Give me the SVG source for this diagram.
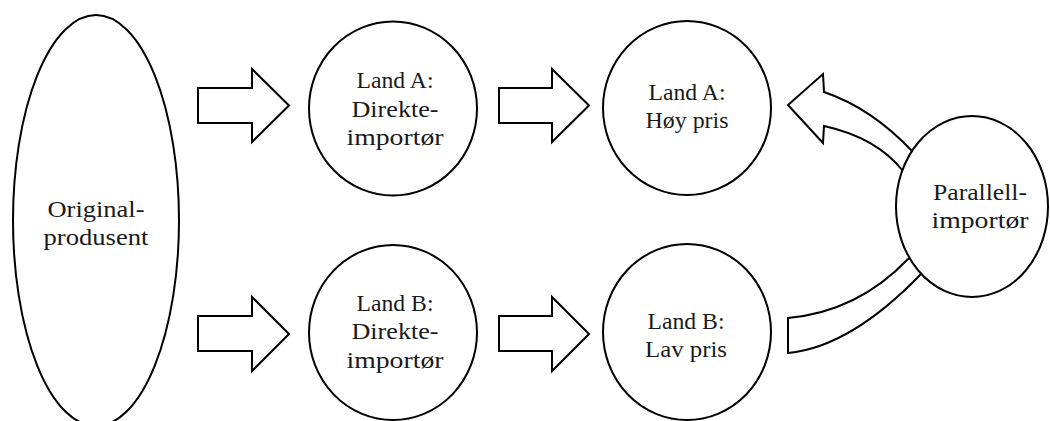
<svg xmlns="http://www.w3.org/2000/svg" width="1050" height="421" viewBox="0 0 1050 421">
<style>
.shape{fill:#fff;stroke:#000;stroke-width:2;stroke-linejoin:miter}
.lbl{font-family:"Liberation Serif","Times New Roman",serif;font-size:23.5px;fill:#1a1a1a;text-anchor:middle}
</style>
<rect width="1050" height="421" fill="#fff"/>
<g id="connectors">
<polygon class="shape" points="198,88 252,88 252,69 289,105.5 252,142 252,123 198,123"/>
<polygon class="shape" points="499,88 552,88 552,69 589,105.5 552,142 552,123 499,123"/>
<polygon class="shape" points="198,316 252,316 252,297 289,334 252,371 252,351 198,351"/>
<polygon class="shape" points="499,316 552,316 552,297 589,334 552,371 552,351 499,351"/>
<path class="shape" d="M788,105 L823,74 L824,92 Q871.5,108 913,152 L932,172 L903,171 Q876.5,137.5 824,126 L823,143 Z"/>
<path class="shape" d="M788,318 Q858,311.5 908,259 L935,250 L922,273 Q851,347 788,353 Z"/>
</g>
<g id="node-original">
<ellipse class="shape" cx="96" cy="220.5" rx="83" ry="205.5"/>
<text class="lbl" x="96" y="217" textLength="97" lengthAdjust="spacingAndGlyphs">Original-</text>
<text class="lbl" x="96" y="245" textLength="105" lengthAdjust="spacingAndGlyphs">produsent</text>
</g>
<g id="node-landA-direkte">
<ellipse class="shape" cx="393" cy="108.5" rx="84" ry="87"/>
<text class="lbl" x="395" y="88" textLength="77" lengthAdjust="spacingAndGlyphs">Land A:</text>
<text class="lbl" x="395" y="116.5" textLength="87" lengthAdjust="spacingAndGlyphs">Direkte-</text>
<text class="lbl" x="395" y="145" textLength="97" lengthAdjust="spacingAndGlyphs">importør</text>
</g>
<g id="node-landA-hoy">
<ellipse class="shape" cx="687" cy="108" rx="84" ry="87"/>
<text class="lbl" x="687" y="100" textLength="77" lengthAdjust="spacingAndGlyphs">Land A:</text>
<text class="lbl" x="687" y="128" textLength="83" lengthAdjust="spacingAndGlyphs">Høy pris</text>
</g>
<g id="node-landB-direkte">
<ellipse class="shape" cx="393" cy="332.5" rx="84" ry="87.5"/>
<text class="lbl" x="395" y="310.5" textLength="77" lengthAdjust="spacingAndGlyphs">Land B:</text>
<text class="lbl" x="395" y="339" textLength="87" lengthAdjust="spacingAndGlyphs">Direkte-</text>
<text class="lbl" x="395" y="367.5" textLength="97" lengthAdjust="spacingAndGlyphs">importør</text>
</g>
<g id="node-landB-lav">
<ellipse class="shape" cx="687" cy="332" rx="84" ry="88"/>
<text class="lbl" x="686" y="329" textLength="77" lengthAdjust="spacingAndGlyphs">Land B:</text>
<text class="lbl" x="686" y="357" textLength="82" lengthAdjust="spacingAndGlyphs">Lav pris</text>
</g>
<g id="node-parallell">
<ellipse class="shape" cx="972" cy="206.5" rx="76" ry="90.5"/>
<text class="lbl" x="980" y="200" textLength="94" lengthAdjust="spacingAndGlyphs">Parallell-</text>
<text class="lbl" x="980" y="228" textLength="97" lengthAdjust="spacingAndGlyphs">importør</text>
</g>
</svg>
